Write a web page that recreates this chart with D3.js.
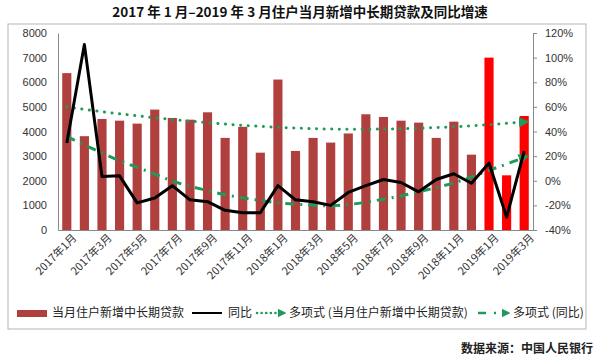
<!DOCTYPE html>
<html><head><meta charset="utf-8">
<script src="https://cdnjs.cloudflare.com/ajax/libs/d3/7.8.5/d3.min.js"></script>
<style>
body{margin:0;background:#fff;}
svg{font-family:"Noto Sans CJK SC","Liberation Sans",Arial,sans-serif;}
</style></head>
<body><svg id="c" width="600" height="361"></svg>
<script>
const categories = ["2017年1月","2017年2月","2017年3月","2017年4月","2017年5月","2017年6月","2017年7月","2017年8月","2017年9月","2017年10月","2017年11月","2017年12月","2018年1月","2018年2月","2018年3月","2018年4月","2018年5月","2018年6月","2018年7月","2018年8月","2018年9月","2018年10月","2018年11月","2018年12月","2019年1月","2019年2月","2019年3月"];
const loans = [6370,3810,4510,4440,4320,4890,4550,4480,4780,3740,4190,3140,6110,3210,3740,3550,3920,4700,4590,4440,4360,3740,4400,3060,7000,2220,4630];
const yoy = [30.6,110.6,3.5,4,-18,-14,-4,-15.5,-17,-24,-26,-26,-4,-15.5,-17,-20,-9.5,-4,1,-1.4,-9,1,5.7,-2,14.4,-29.5,24];
const loanTrend = [5000,4900,4800,4720,4640,4560,4490,4420,4360,4300,4250,4210,4170,4140,4110,4100,4090,4090,4100,4110,4130,4160,4190,4230,4280,4330,4390];
const yoyTrend = [36,29,22.5,16,11,5.5,-0.5,-4.5,-8,-11.5,-14,-16,-18,-19,-20,-20.5,-19.5,-17.5,-15,-12.5,-9,-5.5,-2,3,8.5,13.5,19];
const leftTicks = [0,1000,2000,3000,4000,5000,6000,7000,8000];
const rightTicks = [-40,-20,0,20,40,60,80,100,120];
const xTickLabels = categories.filter((d,i)=>i%2===0);
const highlight = ["2019年1月","2019年2月","2019年3月"];
const title = "2017 年 1 月–2019 年 3 月住户当月新增中长期贷款及同比增速";
const source = "数据来源：中国人民银行";

const svg = d3.select("#c");
const L=58, R=533, T=33, B=230;
const x = d3.scaleBand().domain(categories).range([L,R]).paddingInner(0.48).paddingOuter(0.24);
const yL = d3.scaleLinear().domain([0,8000]).range([B,T]);
const yR = d3.scaleLinear().domain([-40,120]).range([B,T]);
const green = "#1f9a58";

svg.append("text").attr("x",300).attr("y",17).attr("text-anchor","middle")
  .attr("font-size",13.5).attr("font-weight","bold").attr("fill","#111").text(title);

svg.append("rect").attr("x",8).attr("y",24).attr("width",578).attr("height",305)
  .attr("fill","none").attr("stroke","#b5b5b5").attr("stroke-width",1);

const defs = svg.append("defs");
defs.append("marker").attr("id","arr").attr("viewBox","0 0 10 10").attr("refX",5).attr("refY",5)
  .attr("markerWidth",3.5).attr("markerHeight",3.5).attr("orient","auto")
  .append("path").attr("d","M0,0L10,5L0,10Z").attr("fill",green);

// bars
svg.append("g").selectAll("rect").data(categories).join("rect")
  .attr("x",d=>x(d)).attr("width",x.bandwidth())
  .attr("y",(d,i)=>yL(loans[i])).attr("height",(d,i)=>B-yL(loans[i]))
  .attr("fill",d=>highlight.includes(d)?"#ff0000":"#b0403e");

// axes
const axL = svg.append("g").attr("transform",`translate(${L},0)`)
  .call(d3.axisLeft(yL).tickValues(leftTicks).tickSize(0).tickPadding(11).tickFormat(d3.format("d")));
const axR = svg.append("g").attr("transform",`translate(${R},0)`)
  .call(d3.axisRight(yR).tickValues(rightTicks).tickSize(4).tickPadding(8).tickFormat(d=>d+"%"));
const axB = svg.append("g").attr("transform",`translate(0,${B})`)
  .call(d3.axisBottom(x).tickValues(xTickLabels).tickSize(0).tickPadding(6));
[axL,axR,axB].forEach(a=>{
  a.select(".domain").attr("stroke","#888");
  a.selectAll(".tick line").attr("stroke","#888");
  a.selectAll("text").attr("font-size",11).attr("fill","#333").attr("font-family","'Liberation Sans',Arial,sans-serif");
});
axB.selectAll("text").attr("text-anchor","end").attr("font-family","'Noto Sans CJK SC',sans-serif")
  .attr("font-size",11).attr("dy","0.3em").attr("transform","translate(4,2) rotate(-45)");

// trend lines
const ptsLT = categories.map((c,i)=>[x(c)+x.bandwidth()/2, yL(loanTrend[i])]);
svg.append("path").attr("d",d3.line().curve(d3.curveBasis)(ptsLT)).attr("fill","none")
  .attr("stroke",green).attr("stroke-width",3).attr("stroke-linecap","round")
  .attr("stroke-dasharray","0.1 7.5").attr("marker-end","url(#arr)");
const ptsYT = categories.map((c,i)=>[x(c)+x.bandwidth()/2, yR(yoyTrend[i])]);
svg.append("path").attr("d",d3.line().curve(d3.curveBasis)(ptsYT)).attr("fill","none")
  .attr("stroke",green).attr("stroke-width",3)
  .attr("stroke-dasharray","9 6 2 6").attr("marker-end","url(#arr)");

// yoy line
svg.append("path").datum(yoy).attr("fill","none").attr("stroke","#000").attr("stroke-width",3)
  .attr("stroke-linejoin","round")
  .attr("d",d3.line().x((d,i)=>x(categories[i])+x.bandwidth()/2).y(d=>yR(d)));

// legend
const lg = svg.append("g").attr("font-size",12).attr("fill","#222");
const ly = 313;
lg.append("rect").attr("x",17).attr("y",ly-3).attr("width",30).attr("height",7).attr("fill","#b0403e");
lg.append("text").attr("x",52).attr("y",ly).attr("dy","0.35em").text("当月住户新增中长期贷款");
lg.append("line").attr("x1",192).attr("x2",222).attr("y1",ly).attr("y2",ly).attr("stroke","#000").attr("stroke-width",2);
lg.append("text").attr("x",228).attr("y",ly).attr("dy","0.35em").text("同比");
lg.append("line").attr("x1",257).attr("x2",282).attr("y1",ly).attr("y2",ly).attr("stroke",green)
  .attr("stroke-width",2.5).attr("stroke-linecap","round").attr("stroke-dasharray","0.1 4.5").attr("marker-end","url(#arr)");
lg.append("text").attr("x",289).attr("y",ly).attr("dy","0.35em").text("多项式 (当月住户新增中长期贷款)");
lg.append("line").attr("x1",478).attr("x2",506).attr("y1",ly).attr("y2",ly).attr("stroke",green)
  .attr("stroke-width",2.5).attr("stroke-dasharray","8 8 2 6").attr("marker-end","url(#arr)");
lg.append("text").attr("x",513).attr("y",ly).attr("dy","0.35em").text("多项式 (同比)");

svg.append("text").attr("x",593).attr("y",353).attr("text-anchor","end").attr("font-size",12)
  .attr("font-weight","bold").attr("fill","#222").text(source);
</script></body></html>
